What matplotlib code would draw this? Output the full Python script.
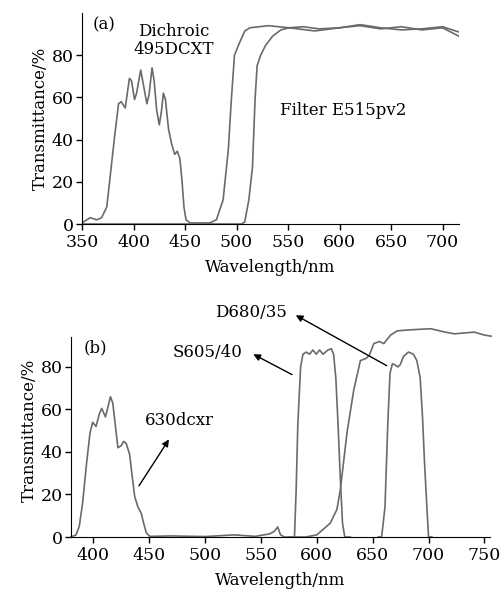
import matplotlib
matplotlib.use('Agg')
import matplotlib.pyplot as plt

plt.rcParams['font.family'] = 'DejaVu Serif'
plt.rcParams['font.size'] = 12

# ---- panel (a): 495DCXT dichroic and E515pv2 filter ----
dichroic_wl = [350, 358, 364.5, 369, 374, 377, 382, 385.5, 388, 392, 396, 398, 401, 403,
               407, 410, 413, 415, 418, 420, 422.5, 425, 427, 429, 431, 434, 437, 440,
               442.5, 445, 447, 449, 451, 455, 474, 480.5, 487, 492, 495, 498, 503, 508,
               513, 531, 551, 576, 600, 620, 640, 660, 680, 700, 716]
dichroic_t = [0.5, 3, 2, 3, 8, 21, 43, 57, 58, 55, 69, 68, 59, 62,
              73, 65, 57, 61, 74, 68, 54, 47, 53, 62, 59, 45, 38, 33,
              34.5, 31, 21, 8, 2, 0.5, 0.5, 2, 11.5, 35, 59, 80, 86, 91.5,
              93, 94, 93, 91.5, 93, 94, 92.5, 93.5, 92, 93, 89]

filter_wl = [350, 505, 508, 512, 515.5, 518, 520, 523.5, 528, 535, 543, 551, 565, 580,
             600, 620, 640, 660, 680, 700, 716]
filter_t = [0, 0, 1, 11.5, 27, 59, 75, 80, 84.5, 89, 92, 93, 93.5, 92.5,
            93, 94.5, 93, 92, 92.5, 93.5, 91]

# ---- panel (b): 630dcxr dichroic, S605/40 and D680/35 bandpass ----
dcxr_wl = [380, 384.5, 387.4, 390.4, 394, 397, 399.4, 402.4, 405.4, 407.5, 410.8, 413,
           415.3, 417.4, 419.8, 422, 425, 427, 429.4, 432.4, 434.8, 437, 440, 443, 445,
           447.4, 450.4, 470, 500, 526, 545, 558, 562, 565, 567.5, 571, 590, 600, 612,
           618, 621, 627, 633, 639, 644, 647, 651, 656, 660, 666, 672, 684, 702, 714,
           723, 732, 741, 750, 756]
dcxr_t = [0, 1, 5, 16, 35, 49, 54, 52, 58, 60.5, 56.5, 61,
          66, 63, 52, 42, 43, 45, 44, 39, 28.5, 19, 14, 11, 6.5,
          2, 0.3, 0.5, 0.2, 1, 0.3, 1.5, 2.7, 4.7, 1, 0, 0, 1, 6.5,
          13, 22, 49, 69, 83, 84, 85.5, 91, 92, 91, 95, 97, 97.5, 98, 96.5,
          95.6, 96, 96.4, 95, 94.5]

s605_wl = [575, 580, 581.5, 583, 585.5, 587.6, 590.5, 593.5, 596.5, 599.5, 602.5, 605.5,
           610, 613, 615, 617, 619, 621, 623, 625, 630]
s605_t = [0, 0, 22, 53, 80, 86, 87, 86, 88, 86, 88, 86,
          88, 88.6, 86, 75, 53, 28, 6.5, 0, 0]

d680_wl = [655, 658, 661, 663.5, 665.5, 667.6, 670, 672.5, 674.6, 677.6, 682, 686.5,
           689.5, 692.5, 694.6, 696.4, 698.5, 700, 703]
d680_t = [0, 0, 14, 53, 77, 81.5, 81, 80, 81, 85, 87, 86,
          83, 75, 56.5, 35, 14, 0, 0]

xticks_a = [350, 400, 450, 500, 550, 600, 650, 700]
xticks_b = [400, 450, 500, 550, 600, 650, 700, 750]
yticks = [0, 20, 40, 60, 80]

line_color = '#6a6a6a'

fig = plt.figure(figsize=(5, 5.92), dpi=100)
ax1 = fig.add_axes([0.164, 0.6216, 0.754, 0.3564])
ax2 = fig.add_axes([0.142, 0.0929, 0.838, 0.359])

for ax in (ax1, ax2):
    ax.spines['top'].set_visible(False)
    ax.spines['right'].set_visible(False)
    ax.tick_params(direction='out', length=4, width=1, labelsize=12.5)
    ax.tick_params(axis='x', pad=3)
    ax.tick_params(axis='y', pad=2)
    ax.set_yticks(yticks)
    ax.set_ylabel('Transmittance/%', labelpad=2)
    ax.set_xlabel('Wavelength/nm', labelpad=6)

# --- (a) ---
ax1.plot(dichroic_wl, dichroic_t, color=line_color, lw=1.2)
ax1.plot(filter_wl, filter_t, color=line_color, lw=1.2)
ax1.set_xlim(350, 716)
ax1.set_ylim(0, 100)
ax1.set_xticks(xticks_a)
ax1.text(371, 94.5, '(a)', ha='center', va='center')
ax1.text(439, 87, 'Dichroic\n495DCXT', ha='center', va='center', linespacing=1.1)
ax1.text(604, 54, 'Filter E515pv2', ha='center', va='center')

# --- (b) ---
ax2.plot(dcxr_wl, dcxr_t, color=line_color, lw=1.2, clip_on=False)
ax2.plot(s605_wl, s605_t, color=line_color, lw=1.2)
ax2.plot(d680_wl, d680_t, color=line_color, lw=1.2)
ax2.set_xlim(380, 755)
ax2.set_ylim(0, 100)
ax2.spines['left'].set_bounds(0, 94)
ax2.set_xticks(xticks_b)
ax2.text(401.6, 89, '(b)', ha='center', va='center')

arrow = dict(arrowstyle='-|>', color='black', lw=1.0, mutation_scale=10)

ax2.annotate('', xy=(541, 86.6), xytext=(580, 75.8), arrowprops=arrow)
ax2.text(502.5, 87, 'S605/40', ha='center', va='center')

ax2.annotate('', xy=(579, 105), xytext=(664.7, 80), arrowprops=arrow, annotation_clip=False)
ax2.text(541, 105.4, 'D680/35', ha='center', va='center', clip_on=False)

ax2.annotate('', xy=(469, 47), xytext=(439.5, 23), arrowprops=arrow)
ax2.text(477, 55, '630dcxr', ha='center', va='center')

plt.savefig('out.png', dpi=100)
